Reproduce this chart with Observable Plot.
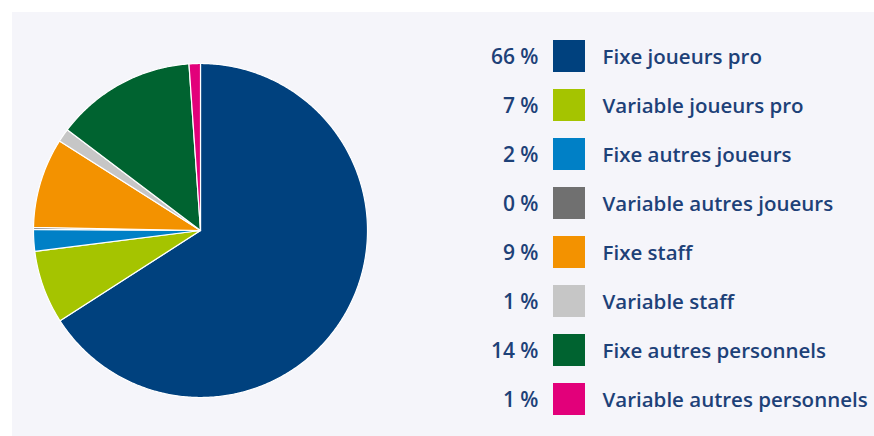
<!DOCTYPE html>
<html>
<head>
<meta charset="utf-8">
<script src="https://cdn.jsdelivr.net/npm/d3@7"></script>
<script src="https://cdn.jsdelivr.net/npm/@observablehq/plot@0.6"></script>
<style>
  html, body { margin: 0; padding: 0; background: #ffffff; }
  #wrap { position: relative; width: 874px; height: 436px; overflow: hidden; }
  #panel { position: absolute; left: 12px; top: 12px; width: 862px; height: 424px; background: #f5f5fa; }
  #pie { position: absolute; left: 19px; top: 49px; }
  #legend { position: absolute; left: 458px; top: 0px; }
  svg { overflow: visible; }
</style>
</head>
<body>
<div id="wrap"><div id="panel"><div id="pie"></div><div id="legend"></div></div></div>
<script>
const categories = [
  "Fixe joueurs pro",
  "Variable joueurs pro",
  "Fixe autres joueurs",
  "Variable autres joueurs",
  "Fixe staff",
  "Variable staff",
  "Fixe autres personnels",
  "Variable autres personnels"
];
const values = [65.9, 7.1, 2.1, 0.2, 8.7, 1.3, 13.6, 1.1];
const pctLabels = ["66 %", "7 %", "2 %", "0 %", "9 %", "1 %", "14 %", "1 %"];
const colors = ["#00417e", "#a5c400", "#0080c6", "#707070", "#f39200", "#c6c6c6", "#006330", "#e2007a"];

const rows = categories.map((c, i) => ({name: c, value: values[i], pct: pctLabels[i], color: colors[i]}));

// pie geometry via d3.pie (angles clockwise from 12 o'clock)
const arcs = d3.pie().sort(null).value(d => d.value)(rows);
const pts = [];
for (const a of arcs) {
  pts.push({name: a.data.name, x: 0, y: 0});
  const n = Math.max(2, Math.ceil((a.endAngle - a.startAngle) / 0.01));
  for (let k = 0; k <= n; k++) {
    const t = a.startAngle + (a.endAngle - a.startAngle) * k / n;
    pts.push({name: a.data.name, x: Math.sin(t), y: Math.cos(t)});
  }
  pts.push({name: a.data.name, x: 0, y: 0});
}

const colorScale = {domain: categories, range: colors};

const pie = Plot.plot({
  width: 338, height: 338,
  margin: 2,
  x: {domain: [-1, 1], axis: null},
  y: {domain: [-1, 1], axis: null},
  color: colorScale,
  style: {background: "transparent"},
  marks: [
    Plot.line(pts, {x: "x", y: "y", z: "name", fill: "name", stroke: "#ffffff", strokeWidth: 1.2, strokeLinejoin: "round", curve: "linear"})
  ]
});
document.getElementById("pie").append(pie);

const font = "'Open Sans', sans-serif";
const legend = Plot.plot({
  width: 404, height: 424,
  margin: 0,
  x: {domain: [0, 404], range: [0, 404], axis: null},
  y: {domain: categories, range: [26, 26 + 49.6 * (8 - 0.355)], paddingInner: 0.355, paddingOuter: 0, axis: null},
  color: colorScale,
  style: {background: "transparent", fontFamily: font},
  marks: [
    Plot.rect(rows, {y: "name", x1: () => 83, x2: () => 115, fill: "name"}),
    Plot.text(rows, {y: "name", x: () => 68, text: "pct", textAnchor: "end", fill: "#1d4178", fontSize: 21, fontWeight: 600, letterSpacing: "1.5px", dy: 1}),
    Plot.text(rows, {y: "name", x: () => 132, text: "name", textAnchor: "start", fill: "#1d4178", fontSize: 20.5, fontWeight: 600, letterSpacing: "0.2px", dy: 1})
  ]
});
document.getElementById("legend").append(legend);
</script>
</body>
</html>
